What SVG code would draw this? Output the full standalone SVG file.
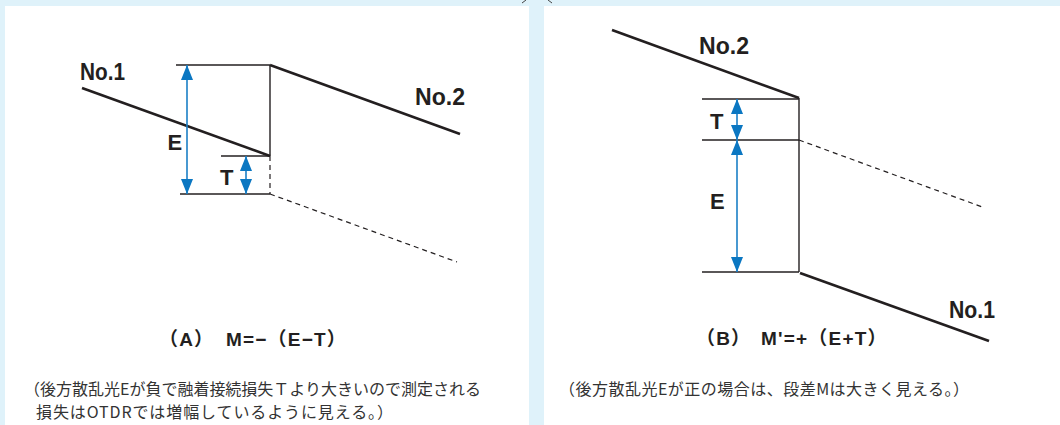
<svg xmlns="http://www.w3.org/2000/svg" width="1060" height="425" viewBox="0 0 1060 425">
<style>
.trace{stroke:#231f20;stroke-width:2.6;fill:none;stroke-linecap:butt}
.thin{stroke:#231f20;stroke-width:1.4;fill:none}
.dash{stroke:#231f20;stroke-width:1.2;fill:none;stroke-dasharray:5 4}
.dim{stroke:#1b7fc6;stroke-width:1.6;fill:none}
.lbl{font-family:"Liberation Sans",Arial,sans-serif;font-weight:700;fill:#231f20}
.cap{font-family:"Liberation Sans","Noto Sans CJK JP",sans-serif;font-weight:700;font-size:19px;fill:#231f20;letter-spacing:1.2px}
.note{font-family:"Noto Sans CJK JP","Liberation Sans",sans-serif;font-size:16px;fill:#333}
</style>
<defs>
<marker id="ah" viewBox="0 0 15 12" refX="15" refY="6" markerWidth="15" markerHeight="12" orient="auto-start-reverse" markerUnits="userSpaceOnUse">
<path d="M0,0 L15,6 L0,12 z" fill="#0b77c2"/>
</marker>
</defs>
<rect width="1060" height="425" fill="#dff2fa"/>
<g id="panelA"><rect x="5" y="6" width="524" height="419" fill="#fff"/></g>
<g id="panelB"><rect x="544" y="6" width="516" height="419" fill="#fff"/></g>
<g id="topmarks"><path d="M522,3 L526,0 M548,0 L552,3" stroke="#444" stroke-width="1"/></g>

<g id="diagramA">
<g id="A-no1"><line class="trace" x1="82" y1="88" x2="270" y2="156"/><text class="lbl" x="80" y="80" font-size="24" textLength="45" lengthAdjust="spacingAndGlyphs">No.1</text></g>
<g id="A-no2"><line class="trace" x1="270" y1="65" x2="460" y2="134"/><text class="lbl" x="415" y="105" font-size="24" textLength="50" lengthAdjust="spacingAndGlyphs">No.2</text></g>
<g id="A-step"><line class="thin" x1="270" y1="65" x2="270" y2="156"/>
<line class="thin" x1="176" y1="65" x2="270" y2="65"/>
<line class="thin" x1="221" y1="156" x2="270" y2="156"/>
<line class="thin" x1="180" y1="194" x2="270" y2="194"/>
<line class="dash" x1="270" y1="156" x2="270" y2="194"/>
<line class="dash" x1="270" y1="194" x2="457" y2="262"/></g>
<g id="A-E"><text class="lbl" x="167.5" y="150" font-size="22">E</text></g>
<g id="A-T"><text class="lbl" x="220" y="185" font-size="22">T</text></g>
<g id="A-caption"><text class="cap" y="346"><tspan x="159">（A）　</tspan><tspan x="226">M=−（E−T）</tspan></text></g>
<g id="A-note"><text class="note" x="24" y="395" textLength="457" lengthAdjust="spacing">（後方散乱光Eが負で融着接続損失Ｔより大きいので測定される</text>
<text class="note" x="36" y="418" textLength="357" lengthAdjust="spacing">損失はOTDRでは増幅しているように見える。）</text></g>
</g>

<g id="diagramB">
<g id="B-no2"><line class="trace" x1="612" y1="30" x2="799" y2="98"/><text class="lbl" x="699" y="54" font-size="24" textLength="50" lengthAdjust="spacingAndGlyphs">No.2</text></g>
<g id="B-no1"><line class="trace" x1="800" y1="273" x2="989" y2="341"/><text class="lbl" x="949" y="318" font-size="24" textLength="46" lengthAdjust="spacingAndGlyphs">No.1</text></g>
<g id="B-step"><line class="thin" x1="799" y1="98" x2="799" y2="272"/>
<line class="thin" x1="702" y1="99" x2="799" y2="99"/>
<line class="thin" x1="702" y1="140" x2="799" y2="140"/>
<line class="thin" x1="702" y1="272" x2="799" y2="272"/>
<line class="dash" x1="799" y1="140" x2="985" y2="208"/></g>
<g id="B-T"><text class="lbl" x="710" y="129" font-size="22">T</text></g>
<g id="B-E"><text class="lbl" x="710" y="209" font-size="22">E</text></g>
<g id="B-caption"><text class="cap" y="345"><tspan x="696">（B）　</tspan><tspan x="761">M'=+（E+T）</tspan></text></g>
<g id="B-note"><text class="note" x="559" y="395" textLength="410" lengthAdjust="spacing">（後方散乱光Eが正の場合は、段差Mは大きく見える。）</text></g>
</g>

<g id="connectors">
<line class="dim" x1="187" y1="65" x2="187" y2="194" marker-start="url(#ah)" marker-end="url(#ah)"/>
<line class="dim" x1="246" y1="156" x2="246" y2="194" marker-start="url(#ah)" marker-end="url(#ah)"/>
<line class="dim" x1="737" y1="99" x2="737" y2="140" marker-start="url(#ah)" marker-end="url(#ah)"/>
<line class="dim" x1="737" y1="140" x2="737" y2="272" marker-start="url(#ah)" marker-end="url(#ah)"/>
</g>
</svg>
